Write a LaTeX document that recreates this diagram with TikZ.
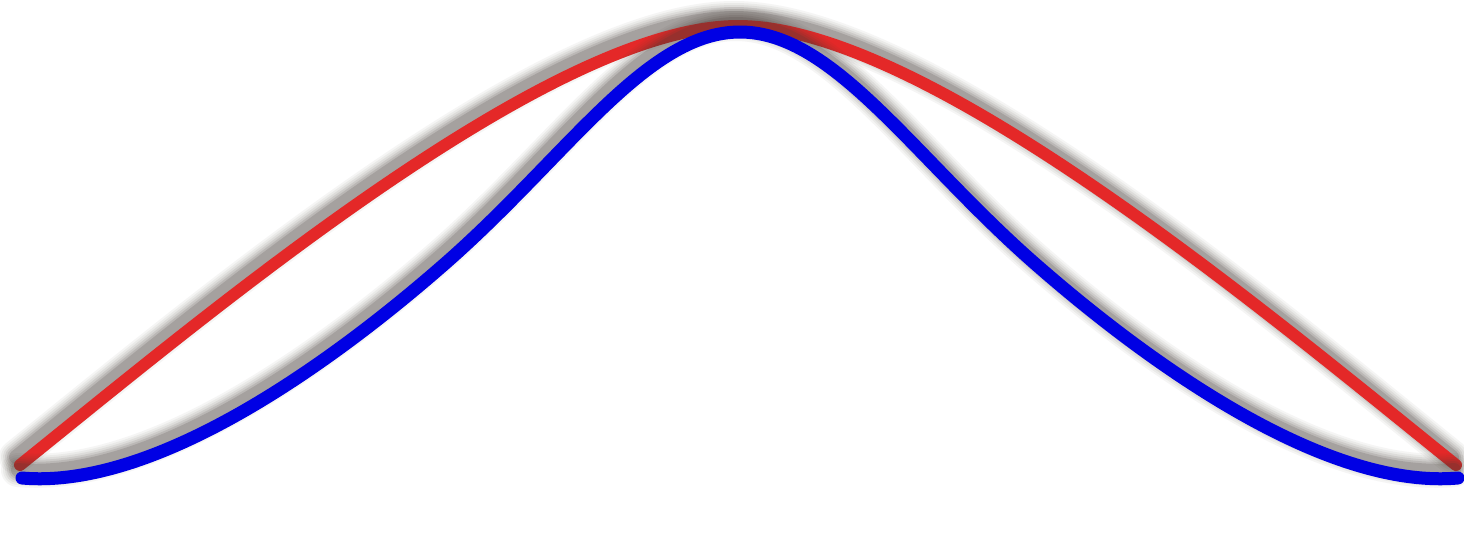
\documentclass[tikz,border=0pt]{standalone}
\definecolor{curvered}{RGB}{228,40,40}
\definecolor{curveblue}{RGB}{0,0,228}
\definecolor{shadowc}{RGB}{70,62,55}
\begin{document}
\begin{tikzpicture}[x=0.5pt,y=-0.5pt,
  redcurve/.style={insert path={(20,465) .. controls (210,312) and (550,26) .. (738,26)
      .. controls (926,26) and (1266,312) .. (1456,465)}},
  bluecurve/.style={insert path={(22,478) .. controls (160,490) and (340,355) .. (440,268)
      .. controls (565,160) and (645,32) .. (740,32)
      .. controls (835,32) and (915,160) .. (1040,268)
      .. controls (1140,355) and (1320,490) .. (1458,478)}},
  shadowlayer/.style={draw=shadowc, line cap=round, shift={(-4,-8)}},
  curveline/.style={line cap=round, line join=round}]
\useasboundingbox (0,0) rectangle (1464,543);
\fill[white] (0,0) rectangle (1464,543);
% red curve with shadow
\foreach \w/\o in {34/0.05, 30/0.06, 26/0.08, 22/0.1, 18/0.13, 14/0.18} {
  \path[shadowlayer, line width=\w*0.5pt, draw opacity=\o, redcurve];
}
\path[curveline, draw=curvered, line width=6pt, redcurve];
% blue curve with shadow
\foreach \w/\o in {34/0.05, 30/0.06, 26/0.08, 22/0.1, 18/0.13, 14/0.18} {
  \path[shadowlayer, line width=\w*0.5pt, draw opacity=\o, bluecurve];
}
\path[curveline, draw=curveblue, line width=6.5pt, bluecurve];
\end{tikzpicture}
\end{document}
